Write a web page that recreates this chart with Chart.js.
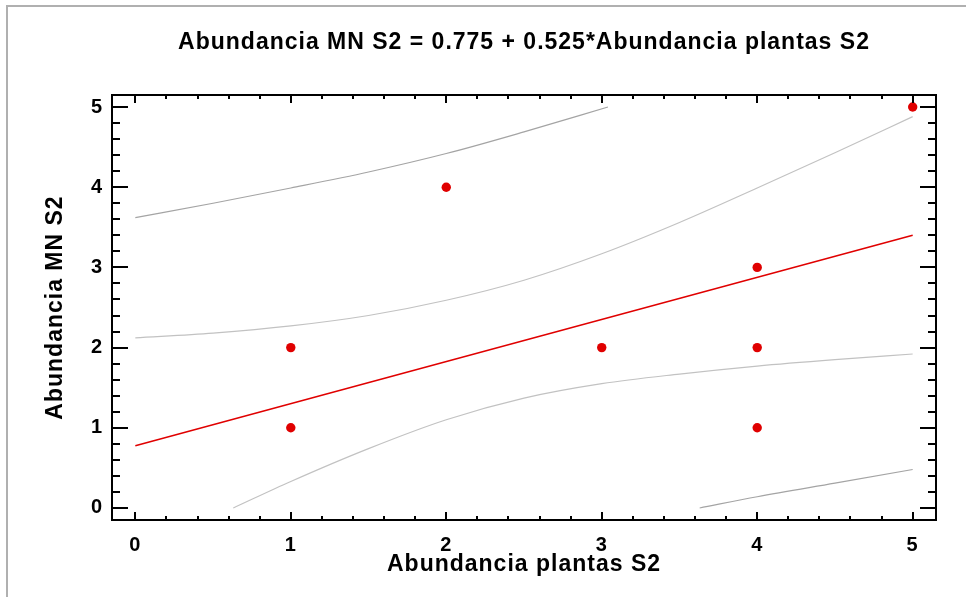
<!DOCTYPE html>
<html>
<head>
<meta charset="utf-8">
<title>Abundancia MN S2 vs Abundancia plantas S2</title>
<script src="https://cdn.jsdelivr.net/npm/chart.js@4.4.1/dist/chart.umd.min.js"></script>
<style>
  html, body { margin: 0; padding: 0; background: #fff; }
  #wrap { width: 966px; height: 597px; position: relative; }
</style>
</head>
<body>
<div id="wrap"><canvas id="regChart"></canvas></div>
<script>
// observed values
const plantasS2 = [1, 1, 2, 3, 4, 4, 4, 5];
const mnS2      = [1, 2, 4, 2, 3, 2, 1, 5];

// fitted model from the title
const intercept = 0.775;
const slope = 0.525;
const fitX = [0, 5];

// confidence limits for the mean
const confUpperX = [0, 0.5, 1, 1.5, 2, 2.5, 3, 3.5, 4, 4.5, 5];
const confUpperY = [2.12, 2.18, 2.27, 2.40, 2.59, 2.84, 3.17, 3.56, 3.99, 4.43, 4.88];
const confLowerX = [0.63, 1, 1.5, 2, 2.5, 3, 3.5, 4, 4.5, 5];
const confLowerY = [0, 0.33, 0.74, 1.10, 1.37, 1.55, 1.67, 1.77, 1.85, 1.92];

// prediction limits
const predUpperX = [0, 0.5, 1, 1.5, 2, 2.5, 3.04];
const predUpperY = [3.62, 3.80, 3.99, 4.19, 4.42, 4.69, 5.0];
const predLowerX = [3.63, 4, 4.5, 5];
const predLowerY = [0, 0.14, 0.31, 0.48];

const xTicks = [0, 1, 2, 3, 4, 5];
const yTicks = [0, 1, 2, 3, 4, 5];

const FONT = "'Liberation Sans', Arial, sans-serif";
const RED = '#e00000';

const pts = (xs, ys) => xs.map((x, i) => ({ x: x, y: ys[i] }));

const bandLine = (xs, ys, color) => ({
    data: pts(xs, ys),
    showLine: true,
    borderColor: color,
    borderWidth: 1.2,
    pointRadius: 0,
    fill: false,
    cubicInterpolationMode: 'monotone'
});

// outer frame, axis box and inward tick marks (major every 1, minor every 0.2)
const framePlugin = {
    id: 'frameTicks',
    beforeDraw(chart) {
        const ctx = chart.ctx;
        ctx.save();
        ctx.fillStyle = '#fff';
        ctx.fillRect(0, 0, chart.width, chart.height);
        ctx.strokeStyle = '#b0b0b0';
        ctx.lineWidth = 2;
        ctx.strokeRect(7, 6, chart.width + 20, chart.height + 20);
        ctx.restore();
        ctx.letterSpacing = '1px';
    },
    afterDraw(chart) {
        const ctx = chart.ctx;
        const a = chart.chartArea;
        const xs = chart.scales.x, ys = chart.scales.y;
        ctx.save();
        ctx.strokeStyle = '#000';
        ctx.lineWidth = 2;
        ctx.strokeRect(a.left, a.top, a.right - a.left, a.bottom - a.top);
        ctx.beginPath();
        for (let k = 0; k <= 25; k++) {
            const v = k / 5;
            const major = k % 5 === 0;
            const px = Math.round(xs.getPixelForValue(v));
            const lx = major ? 8 : 4;
            ctx.moveTo(px, a.bottom); ctx.lineTo(px, a.bottom - lx);
            ctx.moveTo(px, a.top); ctx.lineTo(px, a.top + lx);
            const py = Math.round(ys.getPixelForValue(v));
            const ly = major ? 16 : 8;
            ctx.moveTo(a.left, py); ctx.lineTo(a.left + ly, py);
            ctx.moveTo(a.right, py); ctx.lineTo(a.right - ly, py);
        }
        ctx.stroke();
        ctx.restore();
    }
};

new Chart(document.getElementById('regChart'), {
    type: 'scatter',
    data: {
        datasets: [
            bandLine(predUpperX, predUpperY, '#a4a4a4'),
            bandLine(predLowerX, predLowerY, '#a4a4a4'),
            bandLine(confUpperX, confUpperY, '#c2c2c2'),
            bandLine(confLowerX, confLowerY, '#c2c2c2'),
            {
                data: fitX.map(x => ({ x: x, y: intercept + slope * x })),
                showLine: true,
                borderColor: RED,
                borderWidth: 1.5,
                pointRadius: 0,
                fill: false
            },
            {
                data: pts(plantasS2, mnS2),
                pointRadius: 4.7,
                pointBackgroundColor: RED,
                pointBorderWidth: 0,
                showLine: false
            }
        ]
    },
    options: {
        responsive: true,
        maintainAspectRatio: false,
        animation: false,
        layout: { padding: { top: 0, right: 30, bottom: 0, left: 0 } },
        plugins: {
            legend: { display: false },
            tooltip: { enabled: false },
            title: {
                display: true,
                fullSize: false,
                text: 'Abundancia MN S2 = ' + intercept + ' + ' + slope + '*Abundancia plantas S2',
                color: '#000',
                font: { family: FONT, size: 23, weight: 'bold' },
                padding: { top: 29, bottom: 38.4 }
            }
        },
        scales: {
            x: {
                type: 'linear',
                min: -0.15,
                max: 5.15,
                grid: { display: false, drawTicks: false },
                border: { display: false },
                afterFit: s => { s.height = 77; },
                afterBuildTicks: s => { s.ticks = xTicks.map(v => ({ value: v })); },
                ticks: {
                    includeBounds: false,
                    padding: 13,
                    color: '#000',
                    font: { family: FONT, size: 20, weight: 'bold' }
                },
                title: {
                    display: true,
                    text: 'Abundancia plantas S2',
                    color: '#000',
                    font: { family: FONT, size: 23, weight: 'bold' },
                    padding: { top: 0, bottom: 18.5 }
                }
            },
            y: {
                type: 'linear',
                min: -0.15,
                max: 5.15,
                grid: { display: false, drawTicks: false },
                border: { display: false },
                afterFit: s => { s.width = 112; },
                afterBuildTicks: s => { s.ticks = yTicks.map(v => ({ value: v })); },
                ticks: {
                    includeBounds: false,
                    padding: 9,
                    color: '#000',
                    font: { family: FONT, size: 20, weight: 'bold' }
                },
                title: {
                    display: true,
                    text: 'Abundancia MN S2',
                    color: '#000',
                    font: { family: FONT, size: 23, weight: 'bold' },
                    padding: { top: 42, bottom: 0 }
                }
            }
        }
    },
    plugins: [framePlugin]
});
</script>
</body>
</html>
